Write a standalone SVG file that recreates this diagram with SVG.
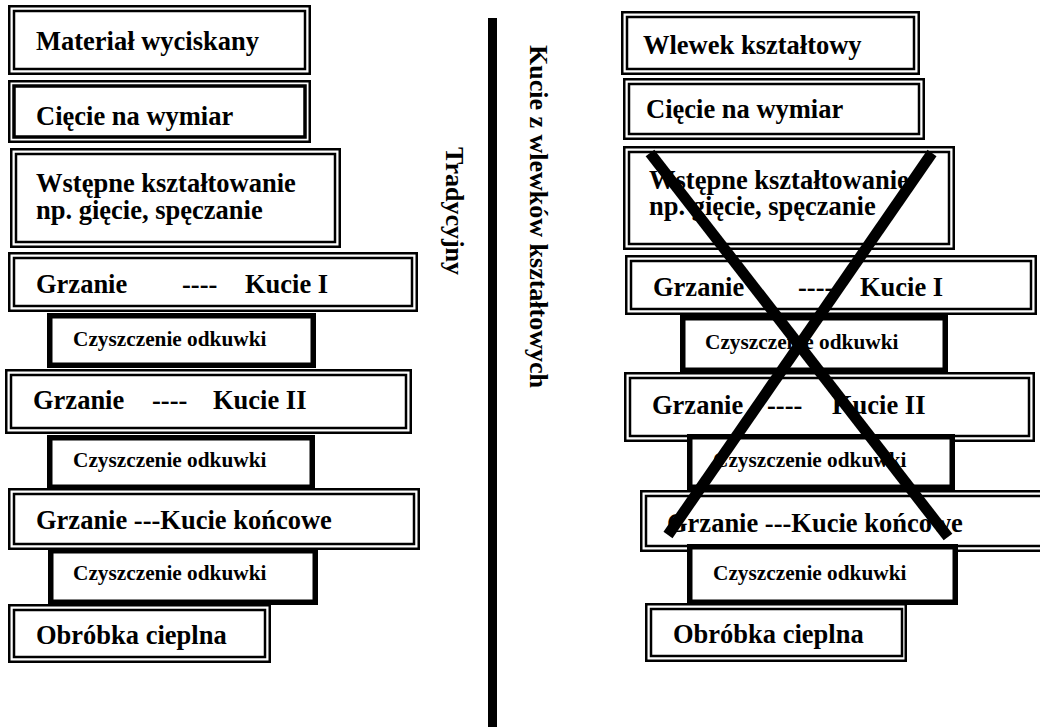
<svg xmlns="http://www.w3.org/2000/svg" width="1040" height="727" viewBox="0 0 1040 727">
<style>
.o{fill:#fff;stroke:#000;stroke-width:2.5}
.i{fill:none;stroke:#000;stroke-width:2.5}
.t{fill:#fff;stroke:#000;stroke-width:5.5}
text{font-family:"Liberation Serif","Times New Roman",serif;font-weight:bold;fill:#000}
.b{font-size:26.5px}
.s{font-size:21.3px}
.v{font-size:26px}
.x{stroke:#000;stroke-width:11;fill:none}
</style>
<rect width="1040" height="727" fill="#fff"/>
<g id="left">
<g id="L1"><rect class="o" x="9.25" y="6.25" width="300.5" height="67.5"/><rect class="i" x="14" y="11" width="291" height="58"/><text class="b" x="36" y="49.5">Materiał wyciskany</text></g>
<g id="L2"><rect class="o" x="9.25" y="81.25" width="300.5" height="60.5"/><rect class="i" x="14" y="86" width="291" height="51" style="stroke-width:3.5"/><text class="b" x="36" y="125">Cięcie na wymiar</text></g>
<g id="L3"><rect class="o" x="11.25" y="149.25" width="328.5" height="97.5"/><rect class="i" x="16" y="154" width="319" height="88"/><text class="b" x="36" y="192">Wstępne kształtowanie</text><text class="b" x="36" y="219">np. gięcie, spęczanie</text></g>
<g id="L4"><rect class="o" x="9.25" y="253.25" width="407.5" height="57.5"/><rect class="i" x="14" y="258" width="398" height="48"/><text class="b" y="293"><tspan x="36">Grzanie</tspan><tspan x="182">----</tspan><tspan x="245">Kucie I</tspan></text></g>
<g id="L5"><rect class="t" x="49.75" y="315.75" width="263.5" height="49.5"/><text class="s" x="73" y="346">Czyszczenie odkuwki</text></g>
<g id="L6"><rect class="o" x="6.25" y="370.25" width="404.5" height="62.5"/><rect class="i" x="11" y="375" width="395" height="53"/><text class="b" y="409"><tspan x="33">Grzanie</tspan><tspan x="152">----</tspan><tspan x="213">Kucie II</tspan></text></g>
<g id="L7"><rect class="t" x="49.75" y="437.75" width="262.5" height="49.5"/><text class="s" x="73" y="467">Czyszczenie odkuwki</text></g>
<g id="L8"><rect class="o" x="9.25" y="489.25" width="409.5" height="59.5"/><rect class="i" x="14" y="494" width="400" height="50"/><text class="b" x="36" y="529">Grzanie ---Kucie końcowe</text></g>
<g id="L9"><rect class="t" x="50.75" y="550.75" width="264.5" height="51.5"/><text class="s" x="73" y="580">Czyszczenie odkuwki</text></g>
<g id="L10"><rect class="o" x="9.25" y="605.25" width="260.5" height="56.5"/><rect class="i" x="14" y="610" width="251" height="47"/><text class="b" x="36" y="644">Obróbka cieplna</text></g>
</g>
<g id="right">
<g id="R1"><rect class="o" x="622.25" y="12.25" width="296.5" height="61.5"/><rect class="i" x="627" y="17" width="287" height="52"/><text class="b" x="643" y="53.5">Wlewek kształtowy</text></g>
<g id="R2"><rect class="o" x="624.25" y="79.25" width="299.5" height="59.5"/><rect class="i" x="629" y="84" width="290" height="50"/><text class="b" x="646" y="117.5">Cięcie na wymiar</text></g>
<g id="R3"><rect class="o" x="624.25" y="147.25" width="329.5" height="101.5"/><rect class="i" x="629" y="152" width="320" height="92"/><text class="b" x="649" y="189">Wstępne kształtowanie</text><text class="b" x="649" y="215">np. gięcie, spęczanie</text></g>
<g id="R4"><rect class="o" x="626.25" y="256.25" width="409.5" height="57.5"/><rect class="i" x="631" y="261" width="400" height="48"/><text class="b" y="296"><tspan x="653">Grzanie</tspan><tspan x="798">----</tspan><tspan x="860">Kucie I</tspan></text></g>
<g id="R5"><rect class="t" x="682.75" y="317.75" width="262.5" height="52.5"/><text class="s" x="705" y="349">Czyszczenie odkuwki</text></g>
<g id="R6"><rect class="o" x="625.25" y="373.25" width="408.5" height="67.5"/><rect class="i" x="630" y="378" width="399" height="58"/><text class="b" y="414"><tspan x="652">Grzanie</tspan><tspan x="767">----</tspan><tspan x="832">Kucie II</tspan></text></g>
<g id="R7"><rect class="t" x="689.75" y="436.75" width="262.5" height="50.5"/><text class="s" x="713" y="467">Czyszczenie odkuwki</text></g>
<g id="R8"><rect class="o" x="641.25" y="491.25" width="410" height="59.5"/><rect class="i" x="646" y="496" width="400" height="50"/><text class="b" x="667" y="532">Grzanie ---Kucie końcowe</text></g>
<g id="R9"><rect class="t" x="689.75" y="546.75" width="265.5" height="55.5"/><text class="s" x="713" y="580">Czyszczenie odkuwki</text></g>
<g id="R10"><rect class="o" x="646.25" y="604.25" width="259.5" height="56.5"/><rect class="i" x="651" y="609" width="251" height="47"/><text class="b" x="673" y="643">Obróbka cieplna</text></g>
</g>
<g id="labels">
<text class="v" transform="translate(530,45) rotate(90)">Kucie z wlewków kształtowych</text>
<text class="v" transform="translate(446,147) rotate(90)">Tradycyjny</text>
</g>
<g id="connectors">
<line x1="492.5" y1="18" x2="492.5" y2="727" stroke="#000" stroke-width="9"/>
<line class="x" x1="650" y1="153" x2="948" y2="537"/>
<line class="x" x1="932" y1="153" x2="668" y2="535"/>
</g>
</svg>
